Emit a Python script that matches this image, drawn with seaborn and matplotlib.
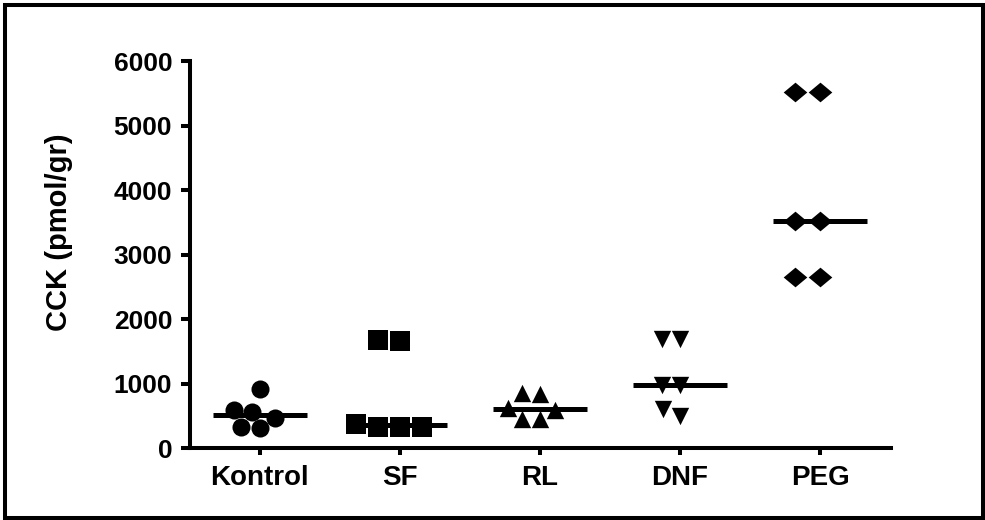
import numpy as np
import matplotlib
matplotlib.use("Agg")
import matplotlib.pyplot as plt
from matplotlib.patches import Rectangle
from matplotlib.path import Path
import seaborn as sns

# Group labels and CCK measurements (pmol/gr)
categories = ["Kontrol", "SF", "RL", "DNF", "PEG"]
kontrol = [912, 462, 591, 564, 306, 331]
sf = [1679, 1652, 331, 325, 373, 331]
rl = [850, 835, 591, 626, 446, 446]
dnf = [1690, 1690, 980, 980, 497, 606]
peg = [5520, 5520, 3520, 3520, 2650, 2650]
groups = [kontrol, sf, rl, dnf, peg]

y_ticks = [0, 1000, 2000, 3000, 4000, 5000, 6000]
y_label = "CCK (pmol/gr)"

sns.set_theme(style="ticks")
plt.rcParams["font.family"] = ["Liberation Sans", "DejaVu Sans"]
plt.rcParams["font.weight"] = "bold"

DPI = 100
fig = plt.figure(figsize=(9.85, 5.2), dpi=DPI)
ax = fig.add_axes([0.1924, 0.13846, 0.7122, 0.7442])

# wide diamond marker
wide_diamond = Path([(-1.2, 0), (0, 1), (1.2, 0), (0, -1), (-1.2, 0)],
                    [Path.MOVETO, Path.LINETO, Path.LINETO, Path.LINETO, Path.CLOSEPOLY])
markers = ["o", "s", "^", "v", wide_diamond]
sizes = [13, 15, 12.5, 12.5, 17]

for cat, vals, mk, sz in zip(categories, groups, markers, sizes):
    sns.swarmplot(x=[cat] * len(vals), y=vals, order=categories, marker=mk,
                  color="black", size=sz, linewidth=0, ax=ax, zorder=3)

# median bars
for i, vals in enumerate(groups):
    ax.hlines(np.median(vals), i - 0.335, i + 0.335, color="black",
              linewidth=3.6, zorder=4)

ax.set_xlim(-0.5, 4.505)
ax.set_ylim(0, 6000)
ax.set_yticks(y_ticks)
ax.set_yticklabels([str(v) for v in y_ticks])
ax.set_xlabel("")
ax.set_ylabel(y_label, fontsize=21, fontweight="bold", color="black")
ax.yaxis.set_label_coords(-0.166, 0.557)

for side in ["top", "right"]:
    ax.spines[side].set_visible(False)
for side in ["left", "bottom"]:
    ax.spines[side].set_linewidth(2.9)
    ax.spines[side].set_color("black")

ax.tick_params(axis="y", direction="out", length=6.5, width=2.9, pad=6,
               labelsize=19, colors="black")
ax.tick_params(axis="x", direction="out", length=5, width=2.9, pad=7,
               labelsize=20, colors="black")
for lab in ax.get_xticklabels() + ax.get_yticklabels():
    lab.set_fontweight("bold")

# outer frame around the figure
W, H = 985, 520
fig.patches.append(Rectangle((5.3 / W, 2.0 / H), (983 - 5.3) / W, (514.7 - 2.0) / H,
                             transform=fig.transFigure, fill=False,
                             edgecolor="black", linewidth=2.9))

fig.savefig("out.png", dpi=DPI, facecolor="white")
